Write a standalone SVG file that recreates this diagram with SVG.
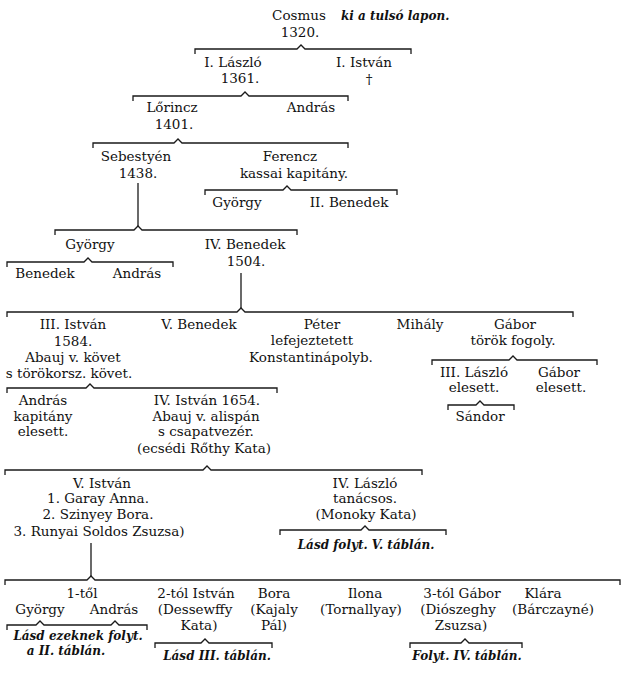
<svg xmlns="http://www.w3.org/2000/svg" width="624" height="682" viewBox="0 0 624 682">
<style>
text{font-family:"DejaVu Serif","Liberation Serif",serif;font-size:13.5px;fill:#111;text-anchor:middle}
.n{font-style:italic;font-weight:bold;font-size:12px}
.s{text-anchor:start}
.c path{fill:none;stroke:#1a1a1a;stroke-width:1.3}
</style>
<rect width="624" height="682" fill="#fff"/>
<g class="c" id="connectors">
<path d="M195 54V49H297L301 45L305 49H411V54"/>
<path d="M133 101V96H241L245 92L249 96H348V101"/>
<path d="M93 148V143H174L178 139L182 143H348V148"/>
<path d="M205 195V190H283L287 186L291 190H397V195"/>
<path d="M55 235V230H134L138 226L142 230H297V235"/>
<path d="M7 267V262H84L88 258L92 262H173V267"/>
<path d="M7 317V312H237L241 308L245 312H573V317"/>
<path d="M432 365V360H509L513 356L517 360H597V365"/>
<path d="M448 410V405H476L480 401L484 405H514V410"/>
<path d="M7 393V388H86L90 384L94 388H277V393"/>
<path d="M5 475V470H203L207 466L211 470H422V475"/>
<path d="M280 535V530H361L365 526L369 530H446V535"/>
<path d="M5 585V580H87L91 576L95 580H620V585"/>
<path d="M7 630V625H36L40 621L44 625H111L115 621L119 625H147V630"/>
<path d="M155 648V643H201L205 639L209 643H272V648"/>
<path d="M410 648V643H461L465 639L469 643H522V648"/>
<path d="M138 183V226"/>
<path d="M241 273V308"/>
<path d="M91 543V576"/>
</g>
<g id="cosmus"><text x="299" y="20">Cosmus</text><text class="n s" x="341" y="20">ki a tulsó lapon.</text><text x="300" y="37">1320.</text></g>
<g id="laszlo1"><text x="233" y="67">I. László</text><text x="240" y="83">1361.</text></g>
<g id="istvan1"><text x="364" y="67">I. István</text><text x="369" y="84">†</text></g>
<g id="lorincz"><text x="172" y="112">Lőrincz</text><text x="174" y="129">1401.</text></g>
<g id="andras1"><text x="311" y="112">András</text></g>
<g id="sebestyen"><text x="136" y="161">Sebestyén</text><text x="138" y="178">1438.</text></g>
<g id="ferencz"><text x="290" y="161">Ferencz</text><text x="294" y="178">kassai kapitány.</text></g>
<g id="gyorgy1"><text x="237" y="207">György</text></g>
<g id="benedek2"><text x="349" y="207">II. Benedek</text></g>
<g id="gyorgy2"><text x="90" y="249">György</text></g>
<g id="benedek4"><text x="245" y="249">IV. Benedek</text><text x="246" y="266">1504.</text></g>
<g id="benedek"><text x="45" y="278">Benedek</text></g>
<g id="andras2"><text x="137" y="278">András</text></g>
<g id="istvan3"><text x="73" y="329">III. István</text><text x="73" y="346">1584.</text><text x="73" y="362">Abauj v. követ</text><text x="69" y="378">s törökorsz. követ.</text></g>
<g id="benedek5"><text x="199" y="329">V. Benedek</text></g>
<g id="peter"><text x="322" y="329">Péter</text><text x="312" y="345">lefejeztetett</text><text x="311" y="362">Konstantinápolyb.</text></g>
<g id="mihaly"><text x="420" y="329">Mihály</text></g>
<g id="gabor1"><text x="515" y="329">Gábor</text><text x="513" y="345">török fogoly.</text></g>
<g id="laszlo3"><text x="474" y="377">III. László</text><text x="474" y="392">elesett.</text></g>
<g id="gabor2"><text x="559" y="377">Gábor</text><text x="561" y="392">elesett.</text></g>
<g id="sandor"><text x="480" y="421">Sándor</text></g>
<g id="andras3"><text x="43" y="405">András</text><text x="43" y="421">kapitány</text><text x="43" y="436">elesett.</text></g>
<g id="istvan4"><text x="207" y="405">IV. István 1654.</text><text x="206" y="421">Abauj v. alispán</text><text x="206" y="436">s csapatvezér.</text><text x="204" y="453">(ecsédi Rőthy Kata)</text></g>
<g id="istvan5"><text x="102" y="488">V. István</text><text x="98" y="503">1. Garay Anna.</text><text x="98" y="519">2. Szinyey Bora.</text><text x="99" y="536">3. Runyai Soldos Zsuzsa)</text></g>
<g id="laszlo4"><text x="365" y="488">IV. László</text><text x="365" y="503">tanácsos.</text><text x="366" y="519">(Monoky Kata)</text><text class="n" x="366" y="549">Lásd folyt. V. táblán.</text></g>
<g id="tol1"><text x="82" y="598">1-től</text></g>
<g id="gyorgy3"><text x="40" y="614">György</text></g>
<g id="andras4"><text x="114" y="614">András</text></g>
<g id="note2"><text class="n" x="78" y="640">Lásd ezeknek folyt.</text><text class="n" x="66" y="655">a II. táblán.</text></g>
<g id="istvan6"><text x="196" y="598">2-tól István</text><text x="195" y="614">(Dessewffy</text><text x="199" y="630">Kata)</text><text class="n" x="217" y="660">Lásd III. táblán.</text></g>
<g id="bora"><text x="274" y="598">Bora</text><text x="274" y="614">(Kajaly</text><text x="274" y="630">Pál)</text></g>
<g id="ilona"><text x="365" y="598">Ilona</text><text x="361" y="614">(Tornallyay)</text></g>
<g id="gabor3"><text x="462" y="598">3-tól Gábor</text><text x="458" y="614">(Diószeghy</text><text x="461" y="630">Zsuzsa)</text><text class="n" x="467" y="660">Folyt. IV. táblán.</text></g>
<g id="klara"><text x="543" y="598">Klára</text><text x="553" y="614">(Bárczayné)</text></g>
</svg>
